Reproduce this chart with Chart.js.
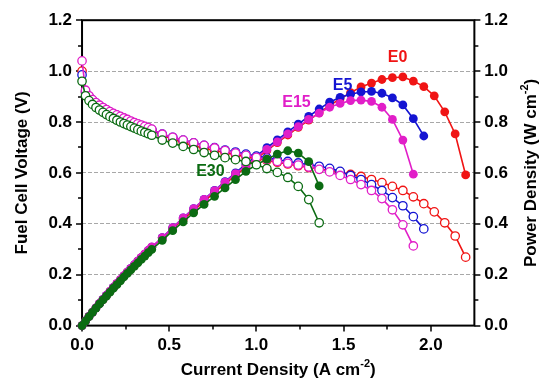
<!DOCTYPE html>
<html>
<head>
<meta charset="utf-8">
<script src="https://cdn.jsdelivr.net/npm/chart.js@4"></script>
<style>
html, body { margin: 0; padding: 0; background: #fff; }
</style>
</head>
<body>
<canvas id="chart" width="542" height="380"></canvas>
<script>
// current density (A cm-2), shared by all samples; each sample stops at its own last point
var current = [0, 0.02, 0.04, 0.06, 0.08, 0.10, 0.12, 0.14, 0.16, 0.18, 0.20, 0.22, 0.24, 0.26, 0.28, 0.30, 0.32, 0.34, 0.36, 0.38, 0.40,
    0.46, 0.52, 0.58, 0.64, 0.70, 0.76, 0.82, 0.88, 0.94, 1.00, 1.06, 1.12, 1.18, 1.24, 1.30, 1.36, 1.42, 1.48, 1.54,
    1.60, 1.66, 1.72, 1.78, 1.84, 1.90, 1.96, 2.02, 2.08, 2.14, 2.20];

var sampleNames = ['E0', 'E5', 'E15', 'E30'];
var sampleColors = ['#f01414', '#1414d2', '#e11ec8', '#0b6b12'];

// cell voltage (V)
var voltageE0 = [1.00, 0.915, 0.896, 0.882, 0.870, 0.860, 0.851, 0.843, 0.836, 0.829, 0.823, 0.817, 0.811, 0.805, 0.799, 0.794, 0.789, 0.784, 0.779, 0.774, 0.768,
    0.747, 0.733, 0.719, 0.707, 0.697, 0.688, 0.679, 0.671, 0.663, 0.656, 0.649, 0.642, 0.635, 0.628, 0.621, 0.615, 0.609, 0.602, 0.594,
    0.586, 0.574, 0.562, 0.547, 0.531, 0.506, 0.479, 0.447, 0.404, 0.352, 0.269];
var voltageE5 = [0.985, 0.920, 0.900, 0.886, 0.874, 0.864, 0.855, 0.847, 0.839, 0.832, 0.826, 0.820, 0.814, 0.808, 0.802, 0.796, 0.791, 0.786, 0.781, 0.776, 0.770,
    0.752, 0.740, 0.729, 0.718, 0.708, 0.699, 0.690, 0.682, 0.674, 0.666, 0.659, 0.652, 0.645, 0.639, 0.632, 0.626, 0.618, 0.606, 0.590,
    0.574, 0.554, 0.531, 0.503, 0.471, 0.428, 0.380];
var voltageE15 = [1.04, 0.925, 0.903, 0.888, 0.876, 0.866, 0.857, 0.849, 0.841, 0.834, 0.828, 0.822, 0.816, 0.810, 0.804, 0.798, 0.793, 0.788, 0.783, 0.778, 0.772,
    0.752, 0.740, 0.729, 0.718, 0.708, 0.698, 0.688, 0.678, 0.669, 0.661, 0.653, 0.645, 0.638, 0.631, 0.623, 0.614, 0.604, 0.590, 0.574,
    0.554, 0.531, 0.499, 0.455, 0.396, 0.313];
var voltageE30 = [0.96, 0.903, 0.884, 0.869, 0.857, 0.847, 0.838, 0.829, 0.821, 0.814, 0.807, 0.800, 0.794, 0.788, 0.782, 0.776, 0.770, 0.764, 0.759, 0.754, 0.748,
    0.729, 0.717, 0.704, 0.692, 0.680, 0.669, 0.660, 0.652, 0.645, 0.632, 0.617, 0.602, 0.582, 0.547, 0.495, 0.404];

// power density (W cm-2)
var powerE0 = [0, 0.018, 0.036, 0.053, 0.070, 0.086, 0.102, 0.118, 0.134, 0.149, 0.165, 0.180, 0.195, 0.209, 0.224, 0.238, 0.252, 0.267, 0.280, 0.294, 0.307,
    0.344, 0.381, 0.417, 0.452, 0.488, 0.523, 0.557, 0.590, 0.623, 0.656, 0.688, 0.719, 0.749, 0.779, 0.807, 0.836, 0.865, 0.891, 0.915,
    0.938, 0.953, 0.967, 0.974, 0.977, 0.961, 0.939, 0.903, 0.840, 0.753, 0.592];
var powerE5 = [0, 0.018, 0.036, 0.053, 0.070, 0.086, 0.103, 0.119, 0.134, 0.150, 0.165, 0.180, 0.195, 0.210, 0.225, 0.239, 0.253, 0.267, 0.281, 0.295, 0.308,
    0.346, 0.385, 0.423, 0.460, 0.496, 0.531, 0.566, 0.600, 0.634, 0.666, 0.699, 0.730, 0.761, 0.792, 0.822, 0.851, 0.878, 0.897, 0.909,
    0.918, 0.920, 0.913, 0.895, 0.867, 0.813, 0.745];
var powerE15 = [0, 0.0185, 0.036, 0.053, 0.070, 0.087, 0.103, 0.119, 0.135, 0.150, 0.166, 0.181, 0.196, 0.211, 0.225, 0.239, 0.254, 0.268, 0.282, 0.296, 0.309,
    0.346, 0.385, 0.423, 0.460, 0.496, 0.530, 0.564, 0.597, 0.629, 0.661, 0.692, 0.722, 0.753, 0.782, 0.810, 0.835, 0.858, 0.873, 0.884,
    0.886, 0.881, 0.858, 0.810, 0.729, 0.595];
var powerE30 = [0, 0.018, 0.035, 0.052, 0.069, 0.085, 0.101, 0.116, 0.131, 0.147, 0.161, 0.176, 0.191, 0.205, 0.219, 0.233, 0.246, 0.260, 0.273, 0.287, 0.299,
    0.335, 0.373, 0.408, 0.443, 0.476, 0.508, 0.541, 0.574, 0.606, 0.632, 0.654, 0.674, 0.687, 0.678, 0.644, 0.549];

var voltages = [voltageE0, voltageE5, voltageE15, voltageE30];
var powers = [powerE0, powerE5, powerE15, powerE30];

// where the sample names sit, in data units (current, left-axis value)
var nameSpots = [[1.81, 1.053], [1.494, 0.943], [1.23, 0.875], [0.736, 0.606]];

var FONT = '"Liberation Sans", Arial, Helvetica, sans-serif';

function pairUp(values) {
    return values.map(function (v, i) { return { x: current[i], y: v }; });
}

function isMajor(value, step) {
    var r = value / step;
    return Math.abs(r - Math.round(r)) < 1e-6;
}

var datasets = [];
sampleNames.forEach(function (name, i) {
    // voltage: open circles
    datasets.push({
        label: name + ' voltage',
        data: pairUp(voltages[i]),
        yAxisID: 'y',
        borderColor: sampleColors[i],
        borderWidth: 1.6,
        pointRadius: 4.2,
        pointBorderWidth: 1.3,
        pointBackgroundColor: '#fff',
        pointBorderColor: sampleColors[i],
        order: 3 - i,
        clip: false
    });
    // power: filled circles
    datasets.push({
        label: name + ' power',
        data: pairUp(powers[i]),
        yAxisID: 'y2',
        borderColor: sampleColors[i],
        borderWidth: 1.6,
        pointRadius: 4.4,
        pointBorderWidth: 0,
        pointBackgroundColor: sampleColors[i],
        order: 3 - i,
        clip: false
    });
});

// frame, outward ticks (short minor ones), sample names and the right/bottom titles
var decorations = {
    id: 'decorations',
    beforeDatasetsDraw: function (chart) {
        var ctx = chart.ctx, a = chart.chartArea;
        ctx.save();
        ctx.strokeStyle = '#000';
        ctx.lineWidth = 2;
        ctx.strokeRect(a.left, a.top, a.right - a.left, a.bottom - a.top);
        ctx.lineWidth = 1.5;
        ctx.beginPath();
        var sx = chart.scales.x;
        sx.ticks.forEach(function (t) {
            if (t.value > 2.2) return;
            var px = Math.round(sx.getPixelForValue(t.value));
            var len = isMajor(t.value, 0.5) ? 6 : 4;
            ctx.moveTo(px, a.bottom);
            ctx.lineTo(px, a.bottom + len);
        });
        ['y', 'y2'].forEach(function (id) {
            var s = chart.scales[id];
            var dir = id === 'y' ? -1 : 1;
            var edge = id === 'y' ? a.left : a.right;
            s.ticks.forEach(function (t) {
                var py = Math.round(s.getPixelForValue(t.value));
                var len = isMajor(t.value, 0.2) ? 6 : 4;
                ctx.moveTo(edge, py);
                ctx.lineTo(edge + dir * len, py);
            });
        });
        ctx.stroke();
        ctx.restore();
    },
    afterDraw: function (chart) {
        var ctx = chart.ctx, a = chart.chartArea;
        var sx = chart.scales.x, sy = chart.scales.y;
        ctx.save();
        ctx.font = 'bold 16px ' + FONT;
        ctx.textAlign = 'center';
        ctx.textBaseline = 'middle';
        sampleNames.forEach(function (name, i) {
            ctx.fillStyle = sampleColors[i];
            ctx.fillText(name, sx.getPixelForValue(nameSpots[i][0]), sy.getPixelForValue(nameSpots[i][1]));
        });

        ctx.fillStyle = '#000';
        drawWithSup(ctx, 'Current Density (A cm', '-2', ')', (a.left + a.right) / 2, 370);
        ctx.save();
        ctx.translate(531, (a.top + a.bottom) / 2);
        ctx.rotate(-Math.PI / 2);
        drawWithSup(ctx, 'Power Density (W cm', '-2', ')', 0, 0);
        ctx.restore();
        ctx.restore();
    }
};

function drawWithSup(ctx, before, sup, after, cx, cy) {
    var big = 'bold 17px ' + FONT, small = 'bold 11px ' + FONT;
    ctx.textBaseline = 'middle';
    ctx.textAlign = 'left';
    ctx.font = big;
    var w1 = ctx.measureText(before).width, w3 = ctx.measureText(after).width;
    ctx.font = small;
    var w2 = ctx.measureText(sup).width;
    var x = cx - (w1 + w2 + w3) / 2;
    ctx.font = big;
    ctx.fillText(before, x, cy);
    ctx.font = small;
    ctx.fillText(sup, x + w1, cy - 6);
    ctx.font = big;
    ctx.fillText(after, x + w1 + w2, cy);
}

var tickFont = { family: FONT, size: 17, weight: 'bold' };

new Chart(document.getElementById('chart'), {
    type: 'line',
    data: { datasets: datasets },
    plugins: [decorations],
    options: {
        responsive: false,
        animation: false,
        events: [],
        layout: { padding: { left: 12, right: 24, top: 15, bottom: 14 } },
        plugins: { legend: { display: false }, tooltip: { enabled: false } },
        scales: {
            x: {
                type: 'linear',
                min: 0,
                max: 2.25,
                border: { display: false },
                grid: { display: false, drawTicks: false },
                ticks: {
                    stepSize: 0.25,
                    autoSkip: false,
                    maxRotation: 0,
                    padding: 10,
                    color: '#000',
                    font: tickFont,
                    callback: function (v) { return isMajor(v, 0.5) && v < 2.2 ? v.toFixed(1) : ''; }
                }
            },
            y: {
                position: 'left',
                min: 0,
                max: 1.2,
                border: { display: false, dash: [4, 2] },
                grid: {
                    drawTicks: false,
                    lineWidth: 1,
                    color: function (ctx) {
                        var v = ctx.tick ? ctx.tick.value : 0;
                        return (isMajor(v, 0.2) && v > 0.05 && v < 1.15) ? '#a8a8a8' : 'rgba(0,0,0,0)';
                    }
                },
                ticks: {
                    stepSize: 0.1,
                    autoSkip: false,
                    padding: 10,
                    color: '#000',
                    font: tickFont,
                    callback: function (v) { return isMajor(v, 0.2) ? v.toFixed(1) : ''; }
                },
                title: {
                    display: true,
                    text: 'Fuel Cell Voltage (V)',
                    color: '#000',
                    font: { family: FONT, size: 17, weight: 'bold' },
                    padding: { top: 0, bottom: 6 }
                }
            },
            y2: {
                position: 'right',
                min: 0,
                max: 1.2,
                border: { display: false },
                grid: { drawOnChartArea: false, drawTicks: false },
                ticks: {
                    stepSize: 0.1,
                    autoSkip: false,
                    padding: 10,
                    color: '#000',
                    font: tickFont,
                    callback: function (v) { return isMajor(v, 0.2) ? v.toFixed(1) : ''; }
                }
            }
        }
    }
});
</script>
</body>
</html>
